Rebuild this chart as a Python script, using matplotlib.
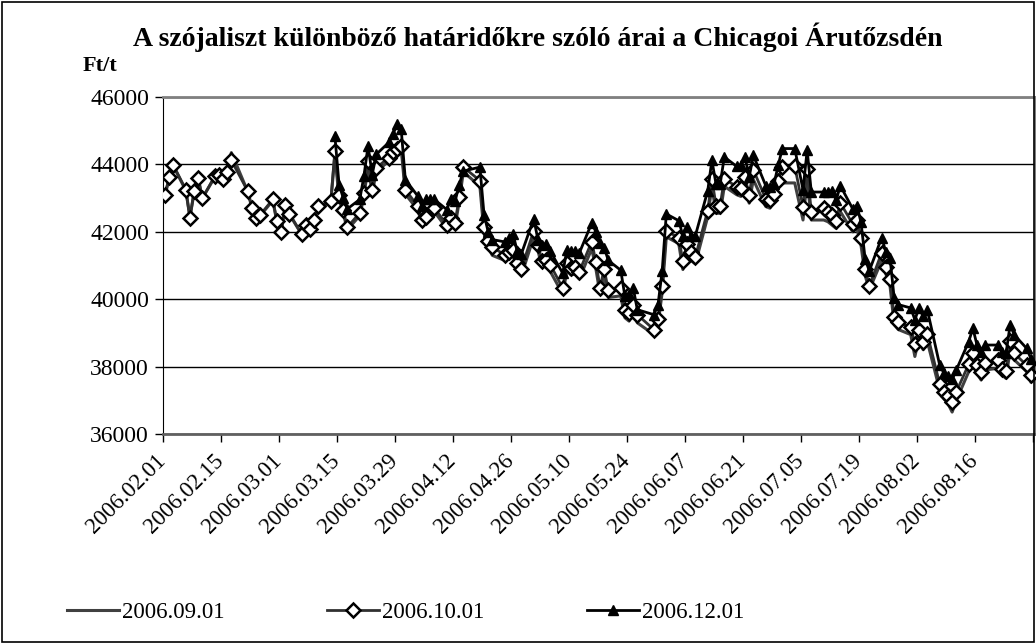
import numpy as np
import pandas as pd
import matplotlib
matplotlib.use('Agg')
import matplotlib.pyplot as plt
import matplotlib.dates as mdates
import matplotlib.transforms as mtransforms
from matplotlib.patches import Rectangle

plt.rcParams['font.family'] = ['Liberation Serif', 'DejaVu Serif']

# trading days shown on the chart
holidays = ['2006-02-20', '2006-04-17', '2006-05-29', '2006-07-04']
dates = pd.bdate_range('2006-02-01', '2006-08-29').drop(pd.to_datetime(holidays))

# 2006.09.01 contract (Ft/t)
s0901 = [
    # Feb
    43080, 43600, 43950, 43230, 42450, 43150, 43570, 43000, 43620, 43680,
    43560, 43800, 44350, 43180, 42680, 42400, 42480, 42930, 42290,
    # Mar
    41970, 42760, 42520, 41920, 42190, 42060, 42330, 42720, 42870, 44300,
    42980, 42560, 42060, 42480, 43050, 43950, 43150, 43780, 44100, 44280,
    44380, 44480, 43120,
    # Apr
    42650, 42250, 42330, 42700, 42600, 42100, 42300, 42150, 42900, 43780,
    43350, 41950, 41550, 41300, 41150, 41200, 41300, 40900, 40700,
    # May
    41850, 41450, 40950, 41000, 40820, 40150, 40850, 40720, 40750, 40600,
    41500, 40900, 40150, 40700, 40050, 40100, 39450, 39350, 39600, 39300,
    38950, 39250,
    # Jun
    40200, 41850, 41650, 40880, 41450, 41150, 41050, 42450, 43350, 42550,
    42550, 43350, 43100, 43050, 43380, 42850, 43550, 42750, 42700, 42900,
    43300, 43450,
    # Jul
    43450, 42350, 43550, 42350, 42350, 42300, 42200, 42100, 42600, 42000,
    42100, 41600, 40700, 40280, 41150, 40750, 40400, 39250, 39100, 38950,
    # Aug
    38300, 38850, 38500, 38750, 37300, 37050, 36900, 36650, 37000, 37850,
    38200, 37800, 37600, 37900, 37950, 37750, 37650, 38500, 38200, 37850,
    37550,
]

# 2006.10.01 contract
s1001 = [
    43100, 43630, 43980, 43250, 42400, 43200, 43600, 42990, 43650, 43700,
    43570, 43780, 44120, 43200, 42710, 42420, 42510, 42960, 42310,
    41990, 42790, 42540, 41930, 42210, 42080, 42360, 42760, 42900, 44400,
    43080, 42640, 42140, 42560, 43160, 44100, 43250, 43900, 44200, 44380,
    44470, 44560, 43250,
    42760, 42360, 42440, 42810, 42710, 42210, 42410, 42260, 43030, 43920,
    43520, 42130, 41740, 41540, 41320, 41400, 41470, 41070, 40900,
    42030, 41620, 41140, 41170, 41020, 40330, 41070, 40940, 40970, 40820,
    41710, 41100, 40340, 40900, 40260, 40320, 39670, 39590, 39840, 39540,
    39100, 39420,
    40390, 42020, 41830, 41120, 41650, 41390, 41250, 42630, 43570, 42780,
    42780, 43570, 43340, 43290, 43620, 43100, 43840, 42980, 42930, 43130,
    43520, 43920,
    43950, 42730, 43850, 42590, 42710, 42590, 42490, 42330, 42860, 42230,
    42360, 41830, 40900, 40390, 41380, 40950, 40590, 39470, 39310, 39170,
    38670, 39090, 38740, 38970, 37480, 37250, 37120, 36950, 37250, 38070,
    38410, 38040, 37840, 38100, 38190, 37920, 37860, 38770, 38390, 38040,
    37750,
]

# 2006.12.01 contract (quoted from mid-March)
s1201 = [np.nan] * 28 + [
    44840, 43400, 43010, 42680, 42960, 43650, 44550, 43700, 44300, 44650,
    44890, 45190, 45040, 43550,
    43060, 42760, 42960, 42980, 42960, 42660, 42960, 42900, 43400, 43800,
    43920, 42510, 42000, 41770, 41700, 41820, 41940, 41420, 41340,
    42390, 41770, 41620, 41640, 41420, 40770, 41470, 41420, 41420, 41370,
    42260, 42000, 41680, 41530, 41150, 40860, 40090, 40140, 40340, 39690,
    39540, 39840,
    40840, 42530, 42330, 41880, 42150, 41880, 41880, 43220, 44120, 43420,
    43420, 44220, 43940, 43970, 44220, 43620, 44270, 43370, 43330, 43420,
    43970, 44470,
    44470, 43250, 44420, 43180, 43180, 43180, 43220, 42930, 43370, 42680,
    42780, 42280, 41190, 40840, 41830, 41400, 41230, 40040, 39840, 39740,
    39390, 39740, 39490, 39690, 38040, 37810, 37720, 37620, 37900, 38740,
    39140, 38640, 38440, 38640, 38640, 38440, 38390, 39240, 38940, 38540,
    38240,
]

tick_dates = pd.date_range('2006-02-01', '2006-08-30', freq='14D')
tick_labels = [d.strftime('%Y.%m.%d') for d in tick_dates[:-1]] + ['']

# points sit in the middle of their day slot, as on an Excel date axis
x = mdates.date2num(dates) + 0.5

fig = plt.figure(figsize=(10.36, 6.43), dpi=100)
ax = fig.add_axes([163 / 1036, 1 - 434 / 643, (1035 - 163) / 1036, (434 - 97) / 643])

ax.plot(x, s0901, color='#404040', lw=2.2, label='2006.09.01', zorder=3)
ax.plot(x, s1001, color='#303030', lw=2.0, marker='D', ms=7.5, mfc='white',
        mec='black', mew=1.8, label='2006.10.01', zorder=4)
ax.plot(x, s1201, color='black', lw=2.0, marker='^', ms=7, mfc='black',
        mec='black', label='2006.12.01', zorder=5)

ax.set_ylim(36000, 46000)
ax.set_yticks(np.arange(36000, 46001, 2000))
ax.set_xlim(mdates.date2num(tick_dates[0]), mdates.date2num(tick_dates[-1]) + 0.5)
ax.set_xticks(mdates.date2num(tick_dates))
ax.set_xticklabels(tick_labels, rotation=45, ha='right', va='center',
                   rotation_mode='anchor')
shift = mtransforms.ScaledTranslation(0.09, 0.0, fig.dpi_scale_trans)
for lab in ax.get_xticklabels():
    lab.set_transform(lab.get_transform() + shift)
ax.grid(axis='y', color='black', lw=1)
ax.set_axisbelow(True)

for side in ['top', 'right']:
    ax.spines[side].set_color('#808080')
    ax.spines[side].set_linewidth(2)
ax.spines['left'].set_color('black')
ax.spines['bottom'].set_color('#606060')
ax.spines['bottom'].set_linewidth(2)
ax.tick_params(axis='y', labelsize=17, length=6, width=1, pad=4)
ax.tick_params(axis='x', labelsize=16.5, length=6, width=1, pad=11)

fig.text(0.519, 0.942, 'A szójaliszt különböző határidőkre szóló árai a Chicagoi Árutőzsdén',
         ha='center', va='center', fontsize=20, fontweight='bold')
fig.text(0.0965, 0.897, 'Ft/t', ha='center', va='center', fontsize=16, fontweight='bold')

fig.legend(loc='center left', bbox_to_anchor=(0.045, 0.047), ncol=3, frameon=False,
           fontsize=16.5, handlelength=2.25, handletextpad=0.13, columnspacing=4.5)

fig.patches.append(Rectangle((0.002, 0.002), 0.996, 0.995, transform=fig.transFigure,
                             fill=False, edgecolor='black', lw=1.2))

fig.savefig('out.png', dpi=100)
